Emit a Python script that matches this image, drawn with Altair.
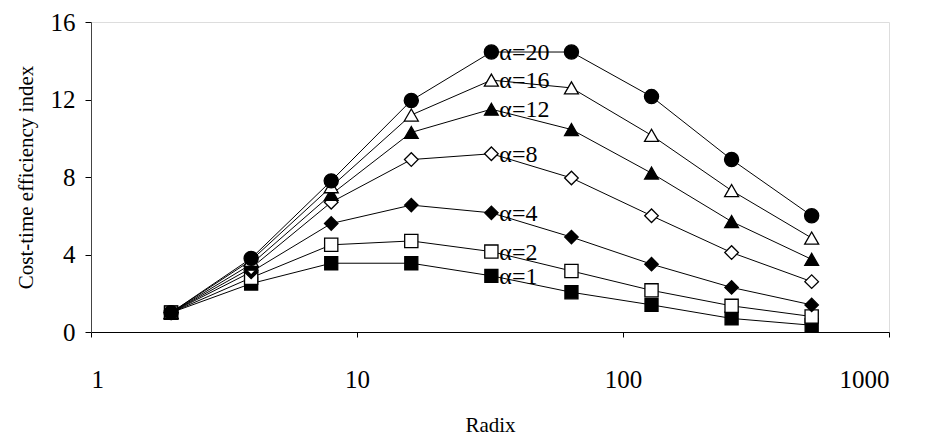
import altair as alt
import pandas as pd

radix = [2, 4, 8, 16, 32, 64, 128, 256, 512]
series_names = ["α=1", "α=2", "α=4", "α=8", "α=12", "α=16", "α=20"]
a1 = [1.0, 2.5, 3.55, 3.55, 2.9, 2.05, 1.4, 0.7, 0.35]
a2 = [1.0, 2.8, 4.5, 4.7, 4.15, 3.15, 2.15, 1.35, 0.8]
a4 = [1.0, 3.1, 5.6, 6.55, 6.15, 4.9, 3.5, 2.3, 1.4]
a8 = [1.0, 3.3, 6.7, 8.9, 9.2, 7.95, 6.0, 4.1, 2.6]
a12 = [1.0, 3.5, 7.1, 10.3, 11.5, 10.45, 8.2, 5.7, 3.75]
a16 = [1.0, 3.7, 7.5, 11.2, 13.0, 12.6, 10.15, 7.3, 4.85]
a20 = [1.0, 3.8, 7.8, 11.95, 14.45, 14.45, 12.15, 8.9, 6.0]
label_radix = 32

values = [a1, a2, a4, a8, a12, a16, a20]
rows = []
for name, vals in zip(series_names, values):
    for r, v in zip(radix, vals):
        rows.append({"radix": r, "value": v, "series": name})
df = pd.DataFrame(rows)

shapes = ["square", "square", "diamond", "diamond", "triangle-up", "triangle-up", "circle"]
fills = ["black", "white", "black", "white", "black", "white", "black"]
sizes = [170, 200, 130, 150, 170, 200, 170]

font = "Liberation Serif"

x = alt.X("radix:Q", scale=alt.Scale(type="log", domain=[1, 1000]),
          axis=alt.Axis(values=[1, 10, 100, 1000], format="d", title="Radix",
                        grid=False, labelFont=font, labelFontSize=25, labelColor="black",
                        labelPadding=30, titleFont=font, titleFontSize=21,
                        titleFontWeight="normal", titleColor="black", titlePadding=22,
                        domainColor="black", tickColor="black", tickSize=5))
y = alt.Y("value:Q", scale=alt.Scale(domain=[0, 16]),
          axis=alt.Axis(values=[0, 4, 8, 12, 16], title="Cost-time efficiency index",
                        grid=False, labelFont=font, labelFontSize=25, labelColor="black",
                        labelPadding=10, titleFont=font, titleFontSize=21,
                        titleFontWeight="normal", titleColor="black", titlePadding=14,
                        domainColor="#444", tickColor="black", tickSize=6))

base = alt.Chart(df)
lines = base.mark_line(color="black", strokeWidth=1).encode(
    x=x, y=y, detail="series:N", order="radix:Q")
points = base.mark_point(stroke="black", strokeWidth=1.3, opacity=1).encode(
    x=x, y=y,
    shape=alt.Shape("series:N", scale=alt.Scale(domain=series_names, range=shapes), legend=None),
    fill=alt.Fill("series:N", scale=alt.Scale(domain=series_names, range=fills), legend=None),
    size=alt.Size("series:N", scale=alt.Scale(domain=series_names, range=sizes), legend=None),
)
labels = base.transform_filter(alt.datum.radix == label_radix).mark_text(
    align="left", baseline="middle", dx=8, dy=1, font=font, fontSize=24, color="black"
).encode(x=x, y=y, text="series:N")

chart = (lines + points + labels).properties(
    width=798, height=310,
    autosize=alt.AutoSizeParams(type="none"),
    padding={"left": 83, "top": 14, "right": 29, "bottom": 112},
).configure_view(stroke=None).configure(background="white")

chart.save("out.html", embed_options={"renderer": "svg", "actions": False})
